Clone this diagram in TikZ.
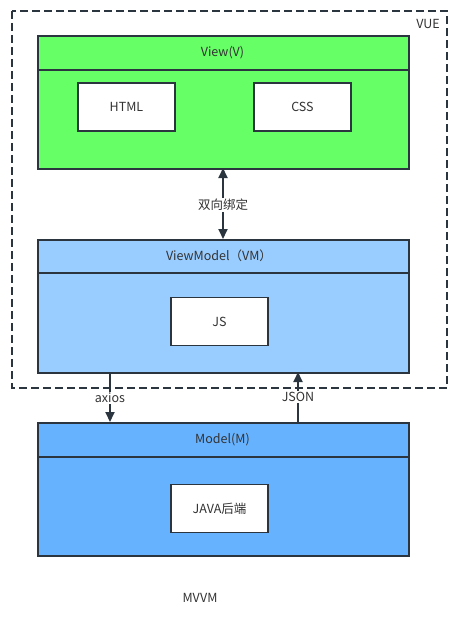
\documentclass[tikz,border=0pt]{standalone}
\usepackage{fontspec}
\setmainfont{Noto Sans CJK SC}
\usetikzlibrary{arrows.meta}
\definecolor{strk}{HTML}{2A3540}
\definecolor{txt}{HTML}{333333}
\definecolor{vgreen}{HTML}{66FF66}
\definecolor{vmblue}{HTML}{99CCFF}
\definecolor{mblue}{HTML}{66B2FF}
\tikzset{
  panel/.style={draw=strk, line width=1.8pt, rectangle, anchor=north west, inner sep=0pt},
  inbox/.style={draw=strk, line width=1.8pt, fill=white, minimum width=97pt, minimum height=48pt, inner sep=0pt, text=txt, font=\fontsize{12.5}{15}\selectfont},
  lbl/.style={text=txt, font=\fontsize{12.5}{15}\selectfont, inner sep=1pt},
  conn/.style={draw=strk, line width=1.8pt, -{Triangle[length=10pt,width=9pt]}},
}
\begin{document}
\begin{tikzpicture}[x=1pt,y=-1pt]
\useasboundingbox (0,0) rectangle (462,618);
% VUE dashed container
\draw[strk, line width=1.8pt, dash pattern=on 8pt off 4pt] (12,11) rectangle (447,388);
\node[lbl, anchor=east] (vue) at (441,24) {VUE};
% View
\node[panel, fill=vgreen, minimum width=371pt, minimum height=133pt] (view) at (37,35) {};
\draw[strk, line width=1.8pt] (37,70) -- (408,70);
\node[lbl] (viewt) at (222.5,53) {View(V)};
\node[inbox] (html) at (126.5,107) {HTML};
\node[inbox] (css) at (302.5,107) {CSS};
% ViewModel
\node[panel, fill=vmblue, minimum width=371pt, minimum height=133pt] (vm) at (37,239) {};
\draw[strk, line width=1.8pt] (37,273) -- (408,273);
\node[lbl] (vmt) at (219,256) {ViewModel（VM）};
\node[inbox] (js) at (219.5,321.5) {JS};
% Model
\node[panel, fill=mblue, minimum width=371pt, minimum height=133pt] (model) at (37,422) {};
\draw[strk, line width=1.8pt] (37,457) -- (408,457);
\node[lbl] (mt) at (222.5,440) {Model(M)};
\node[inbox] (java) at (219.5,508.5) {JAVA后端};
% connectors
\coordinate (vb) at (223,168);
\coordinate (vmtop) at (223,239);
\node[lbl, fill=white] (bind) at (223,205) {双向绑定};
\draw[conn] (bind) -- (vb);
\draw[conn] (bind) -- (vmtop);
\coordinate (ax1) at (110,372);
\coordinate (ax2) at (110,422);
\node[lbl, fill=white] (axios) at (110,398) {axios};
\draw[strk, line width=1.8pt] (ax1) -- (axios);
\draw[conn] (axios) -- (ax2);
\coordinate (js1) at (298,422);
\coordinate (js2) at (298,372);
\node[lbl, fill=white] (json) at (298,397) {JSON};
\draw[strk, line width=1.8pt] (js1) -- (json);
\draw[conn] (json) -- (js2);
\node[lbl] (mvvm) at (200,598) {MVVM};
\end{tikzpicture}
\end{document}
